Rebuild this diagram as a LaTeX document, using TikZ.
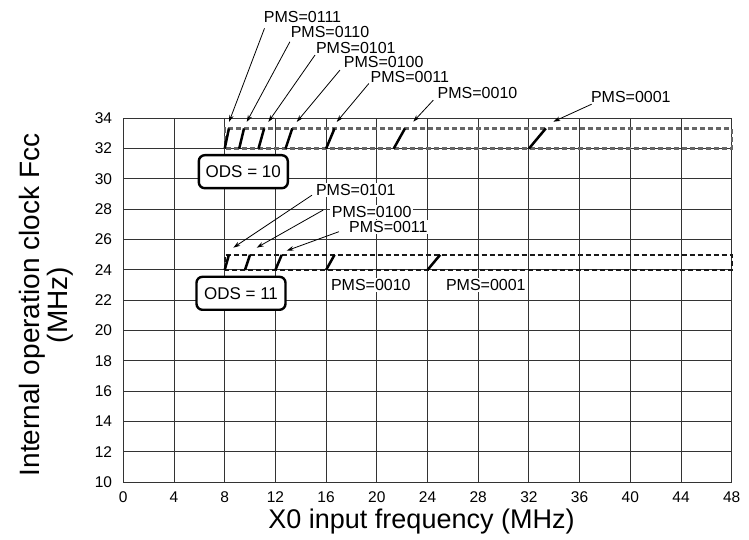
\documentclass[tikz,border=0pt]{standalone}
\usepackage{fontspec}
\setmainfont{Liberation Sans}
\usetikzlibrary{arrows.meta}
\begin{document}
\begin{tikzpicture}[x=1pt,y=1pt,
 gridline/.style={draw=black!80, line width=0.95pt},
 ticklbl/.style={font=\fontsize{15.5}{18}\selectfont, inner sep=0pt},
 pms/.style={font=\fontsize{16}{19}\selectfont, fill=white, inner sep=1.5pt},
 odsbox/.style={draw=black, line width=2.4pt, rounded corners=6pt, fill=white, minimum width=89pt, minimum height=33pt, inner sep=0pt, font=\fontsize{17}{20}\selectfont},
 rangeU/.style={draw=black!60, line width=2.4pt, dash pattern=on 5pt off 3pt},
 rangeL/.style={draw=black!90, line width=2.4pt, dash pattern=on 5pt off 3pt},
 seg/.style={draw=black, line width=2.5pt},
 leader/.style={draw=black, line width=0.8pt, -{Stealth[length=7pt,width=4.5pt]}},
 axtitle/.style={font=\fontsize{27}{27}\selectfont, inner sep=0pt},
 ytitlestyle/.style={font=\fontsize{28}{28}\selectfont, inner sep=0pt}]
\useasboundingbox (0,0) rectangle (749,540);
\begin{scope}[shift={(123.3pt,-93.97pt)}, x=12.675pt, y=15.167pt]
 % grid
 \foreach \x in {0,4,...,48} {\draw[gridline] (\x,10) -- (\x,34);}
 \foreach \y in {10,12,...,34} {\draw[gridline] (0,\y) -- (48,\y);}
 % tick labels
 \foreach \x in {0,4,...,48} {\node[ticklbl, anchor=north, yshift=-9pt] (xt\x) at (\x,10) {\x};}
 \foreach \y in {10,12,...,34} {\node[ticklbl, anchor=east, xshift=-11pt] (yt\y) at (0,\y) {\y};}
 % ranges
 \draw[rangeU] (8,32) rectangle (48,33.333);
 \draw[rangeL] (8,24) rectangle (48,25);
 % ODS = 10 segments
 \draw[seg] (8,32) -- (8.333,33.333);
 \draw[seg] (9.143,32) -- (9.524,33.333);
 \draw[seg] (10.667,32) -- (11.111,33.333);
 \draw[seg] (12.8,32) -- (13.333,33.333);
 \draw[seg] (16,32) -- (16.667,33.333);
 \draw[seg] (21.333,32) -- (22.222,33.333);
 \draw[seg] (32,32) -- (33.333,33.333);
 % ODS = 11 segments
 \draw[seg] (8,24) -- (8.333,25);
 \draw[seg] (9.6,24) -- (10,25);
 \draw[seg] (12,24) -- (12.5,25);
 \draw[seg] (16,24) -- (16.667,25);
 \draw[seg] (24,24) -- (25,25);
\end{scope}
% ODS boxes
\node[odsbox] (o10) at (243.3,368.3) {ODS = 10};
\node[odsbox] (o11) at (241,246.7) {ODS = 11};
% upper labels
\node[pms] (u1) at (302.5,523.3) {PMS=0111};
\node[pms] (u2) at (330,507.7) {PMS=0110};
\node[pms] (u3) at (355.8,492.3) {PMS=0101};
\node[pms] (u4) at (383.7,477.7) {PMS=0100};
\node[pms] (u5) at (409.8,463.3) {PMS=0011};
\node[pms] (u6) at (477.5,446.7) {PMS=0010};
\node[pms] (u7) at (630.8,442.7) {PMS=0001};
% lower labels
\node[pms] (d1) at (355.8,350) {PMS=0101};
\node[pms] (d2) at (371.7,328.3) {PMS=0100};
\node[pms] (d3) at (388.3,313.3) {PMS=0011};
\node[pms] (d4) at (370.8,255) {PMS=0010};
\node[pms] (d5) at (485.8,255) {PMS=0001};
% arrow tips
\coordinate (t1) at (229,418);
\coordinate (t2) at (246.7,418);
\coordinate (t3) at (268.3,418);
\coordinate (t4) at (296.7,418);
\coordinate (t5) at (336.7,418);
\coordinate (t6) at (413.3,418.3);
\coordinate (t7) at (553.3,418.3);
\coordinate (s1) at (233.3,292.3);
\coordinate (s2) at (256.7,292.3);
\coordinate (s3) at (286.7,289.3);
% leaders
\draw[leader] ([shift={(2.3,-4.3)}]u1.south west) -- (t1);
\draw[leader] ([shift={(0.8,-2.1)}]u2.south west) -- (t2);
\draw[leader] ([shift={(0.7,0)}]u3.south west) -- (t3);
\draw[leader] ([shift={(-2.2,-0.4)}]u4.south west) -- (t4);
\draw[leader] ([shift={(0,0.6)}]u5.south west) -- (t5);
\draw[leader] ([shift={(-2.7,0.5)}]u6.south west) -- (t6);
\draw[leader] ([shift={(2.4,0.5)}]u7.south west) -- (t7);
\draw[leader] ([shift={(-2.3,2.2)}]d1.south west) -- (s1);
\draw[leader] ([shift={(-6.9,1.7)}]d2.west) -- (s2);
\draw[leader] ([shift={(-8.5,-5)}]d3.west) -- (s3);
% axis titles
\node[axtitle] (xtitle) at (421.5,18) {X0 input frequency (MHz)};
\node[ytitlestyle, rotate=90, align=center] (ytitle) at (46.5,235) {Internal operation clock Fcc\\(MHz)};
\end{tikzpicture}
\end{document}
